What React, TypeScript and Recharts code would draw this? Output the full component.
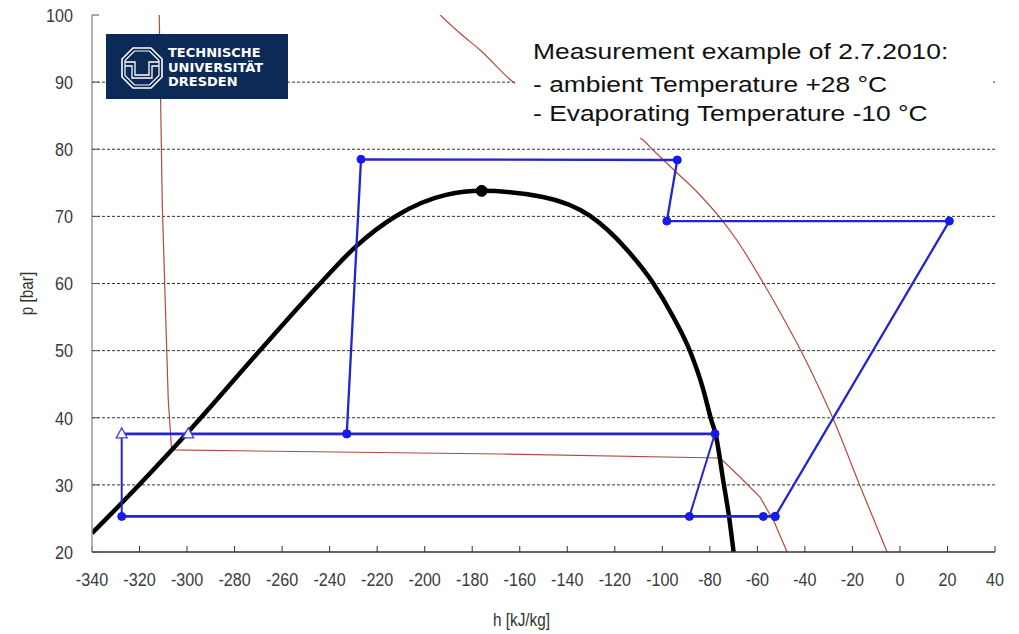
import React from 'react';
import { ComposedChart, Line, XAxis, YAxis, ReferenceLine, Label } from 'recharts';

// ---- axis ticks ----
const xTicks = [-340, -320, -300, -280, -260, -240, -220, -200, -180, -160, -140, -120, -100, -80, -60, -40, -20, 0, 20, 40];
const yTicks = [20, 30, 40, 50, 60, 70, 80, 90, 100];
const gridValues = [30, 40, 50, 60, 70, 80, 90];

// ---- saturation dome (black) ----
const domeH = [-340, -327.5, -300, -270, -244, -229, -212, -191, -176, -150.2, -130.4, -114.8, -103.9, -95.4, -88.2, -82.7, -79.4, -77.6, -74.2, -71.9, -70];
const domeP = [22.8, 27.3, 37.7, 49.75, 60, 65.5, 70.06, 73.2, 73.8, 72.89, 70.06, 64.99, 60.07, 55.01, 49.79, 44.13, 39.66, 37.58, 30.28, 25.21, 20];
const critH = [-176];
const critP = [73.8];

// ---- isotherms (red) ----
const isoLeftH = [-311.7, -310.4, -307.9, -306.5, -168.3, -75.7, -67.3, -58.9, -52.9, -47.5];
const isoLeftP = [100, 71.4, 42.6, 35.2, 34.6, 34.0, 31.17, 28.19, 24.47, 20];
const isoRightH = [-193.5, -185.1, -176.7, -162.8, -143.0, -122.0, -108.1, -103.9, -95.1, -86.2, -76.0, -68.7, -57.5, -49.1, -41.4, -34.4, -27.9, -16.8, -5.4];
const isoRightP = [100, 97.27, 94.79, 90.02, 86.6, 83.6, 81.38, 79.89, 76.91, 73.93, 69.91, 66.48, 60.07, 54.86, 49.79, 44.73, 39.66, 29.83, 20];

// ---- measured cycle (blue) ----
const highLoopH = [-52.5, 20.8, -98.1, -93.7, -226.8, -232.8];
const highLoopP = [25.3, 69.3, 69.3, 78.4, 78.5, 37.6];
const midLineH = [-327.5, -299.5, -232.8, -77.8];
const midLineP = [37.6, 37.6, 37.6, 37.6];
const midMarkers = ['triangle', 'triangle', 'circle', 'circle'];
const lowLineH = [-327.5, -88.6, -57.5, -52.5];
const lowLineP = [25.3, 25.3, 25.3, 25.3];
const riserH = [-327.5, -327.5];
const riserP = [25.3, 37.6];
const evapH = [-88.6, -77.8];
const evapP = [25.3, 37.7];

const zip = (hs: number[], ps: number[], mk?: string[]) =>
  hs.map((h, i) => ({ h, p: ps[i], mk: mk ? mk[i] : 'circle' }));

const dome = zip(domeH, domeP);
const crit = zip(critH, critP);
const isoLeft = zip(isoLeftH, isoLeftP);
const isoRight = zip(isoRightH, isoRightP);
const highLoop = zip(highLoopH, highLoopP);
const midLine = zip(midLineH, midLineP, midMarkers);
const lowLine = zip(lowLineH, lowLineP);
const riser = zip(riserH, riserP, ['none', 'none']);
const evap = zip(evapH, evapP, ['none', 'none']);

const BLUE_LINE = '#2424d0';
const BLUE_DOT = '#1818f0';
const RED = '#b24a40';
const TICK_FONT = '"Liberation Sans", Arial, sans-serif';

const CycleDot = (props: any) => {
  const { cx, cy, payload, index } = props;
  if (cx == null || cy == null) return <g key={index} />;
  if (payload.mk === 'triangle') {
    return (
      <path
        key={index}
        d={`M${cx},${cy - 6} L${cx + 5.5},${cy + 4} L${cx - 5.5},${cy + 4} Z`}
        fill="#f4f4ff"
        stroke="#4646c8"
        strokeWidth={1.3}
      />
    );
  }
  if (payload.mk === 'none') return <g key={index} />;
  return <circle key={index} cx={cx} cy={cy} r={4} fill={BLUE_DOT} stroke={BLUE_DOT} />;
};

const XTick = (props: any) => {
  const { x, y, payload } = props;
  return (
    <g transform={`translate(${x},${y}) scale(0.85,1)`}>
      <text x={0} y={0} dy="0.72em" textAnchor="middle" fontFamily={TICK_FONT} fontSize={19} fill="#3a3a3a">
        {payload.value}
      </text>
    </g>
  );
};

const YTick = (props: any) => {
  const { x, y, payload } = props;
  return (
    <g transform={`translate(${x},${y}) scale(0.85,1)`}>
      <text x={0} y={0} dy="0.36em" textAnchor="end" fontFamily={TICK_FONT} fontSize={19} fill="#3a3a3a">
        {payload.value}
      </text>
    </g>
  );
};

const XTitle = (props: any) => {
  const vb = props.viewBox;
  const x = vb.x + vb.width / 2 - 22;
  const y = vb.y + 68;
  return (
    <g transform={`translate(${x},${y}) scale(0.85,1)`}>
      <text x={0} y={0} textAnchor="middle" dominantBaseline="central" fontFamily={TICK_FONT} fontSize={18} fill="#333">h [kJ/kg]</text>
    </g>
  );
};

const YTitle = (props: any) => {
  const vb = props.viewBox;
  const x = vb.x + 27;
  const y = vb.y + vb.height / 2 + 10;
  return (
    <g transform={`translate(${x},${y}) rotate(-90) scale(0.85,1)`}>
      <text x={0} y={0} textAnchor="middle" dominantBaseline="central" fontFamily={TICK_FONT} fontSize={18} fill="#333">p [bar]</text>
    </g>
  );
};

const TuLogo = () => (
  <div style={{ position: 'absolute', left: 106, top: 34, width: 182, height: 65, background: '#0c2a56' }}>
    <svg width={44} height={44} style={{ position: 'absolute', left: 14, top: 12 }} viewBox="0 0 44 44">
      <polygon points="13,2 31,2 42,13 42,31 31,42 13,42 2,31 2,13" fill="none" stroke="#fff" strokeWidth={1.6} />
      <polygon points="14.5,5 29.5,5 39,14.5 39,29.5 29.5,39 14.5,39 5,29.5 5,14.5" fill="none" stroke="#fff" strokeWidth={1.2} />
      <polyline points="5,16 15,16 15,29 29,29 29,16 39,16" fill="none" stroke="#fff" strokeWidth={1.3} />
      <polyline points="5,20 12,20 12,32 32,32 32,20 39,20" fill="none" stroke="#fff" strokeWidth={1.3} />
    </svg>
    <div style={{ position: 'absolute', left: 62, top: 12, color: '#fff', fontFamily: '"DejaVu Sans", sans-serif',
      fontWeight: 700, fontSize: 13, lineHeight: '14.5px', whiteSpace: 'pre' }}>
      {'TECHNISCHE\nUNIVERSITÄT\nDRESDEN'}
    </div>
  </div>
);

const noteLines = ['Measurement example of 2.7.2010:', '- ambient Temperature +28 °C', '- Evaporating Temperature -10 °C'];
const noteTops = [41, 74, 103];

const NoteBox = () => (
  <div style={{ position: 'absolute', left: 515, top: 20, width: 478, height: 118, background: '#fff' }}>
    {noteLines.map((t, i) => (
      <div key={i} style={{ position: 'absolute', left: 18, top: noteTops[i] - 20, fontFamily: '"Liberation Sans", Arial, sans-serif',
        fontSize: 22, lineHeight: '22px', color: '#111', whiteSpace: 'pre', transform: 'scaleX(1.2)', transformOrigin: 'left center' }}>
        {t}
      </div>
    ))}
  </div>
);

export default function App() {
  return (
    <div style={{ position: 'absolute', left: 0, top: 0, width: 1019, height: 634, background: '#fff' }}>
      <ComposedChart width={1019} height={634} margin={{ top: 15, right: 24, bottom: 0, left: 0 }}>
        <XAxis
          dataKey="h"
          type="number"
          domain={[-340, 40]}
          ticks={xTicks}
          interval={0}
          height={82}
          allowDataOverflow
          tickSize={-6}
          tickMargin={26}
          tick={<XTick />}
          tickLine={{ stroke: '#333' }}
          axisLine={{ stroke: '#333', strokeWidth: 1.5 }}
        >
          <Label content={<XTitle />} />
        </XAxis>
        <XAxis xAxisId="top" orientation="top" type="number" domain={[-340, 40]} height={0}
          tick={false} tickLine={false} axisLine={{ stroke: '#999', strokeWidth: 1.5 }} />
        <YAxis
          type="number"
          domain={[20, 100]}
          ticks={yTicks}
          interval={0}
          width={92}
          allowDataOverflow
          tickSize={-7}
          tickMargin={26}
          tick={<YTick />}
          tickLine={{ stroke: '#555' }}
          axisLine={{ stroke: '#999', strokeWidth: 1.5 }}
        >
          <Label content={<YTitle />} />
        </YAxis>
        <YAxis yAxisId="right" orientation="right" type="number" domain={[20, 100]} width={0}
          tick={false} tickLine={false} axisLine={{ stroke: '#555', strokeWidth: 1.5 }} />

        {gridValues.map((v) => (
          <ReferenceLine key={v} y={v} stroke="#333" strokeDasharray="3 2" strokeWidth={1} />
        ))}

        <Line data={isoLeft} dataKey="p" type="linear" stroke={RED} strokeWidth={1.2} dot={false} isAnimationActive={false} />
        <Line data={isoRight} dataKey="p" type="monotone" stroke={RED} strokeWidth={1.2} dot={false} isAnimationActive={false} />
        <Line data={dome} dataKey="p" type="monotone" stroke="#000" strokeWidth={4.5} dot={false} isAnimationActive={false} />
        <Line data={crit} dataKey="p" stroke="#000" dot={{ r: 5.5, fill: '#000', stroke: '#000' }} isAnimationActive={false} />

        <Line data={highLoop} dataKey="p" type="linear" stroke={BLUE_LINE} strokeWidth={2.3} dot={<CycleDot />} isAnimationActive={false} />
        <Line data={riser} dataKey="p" type="linear" stroke={BLUE_LINE} strokeWidth={2} dot={<CycleDot />} isAnimationActive={false} />
        <Line data={evap} dataKey="p" type="linear" stroke={BLUE_LINE} strokeWidth={2} dot={<CycleDot />} isAnimationActive={false} />
        <Line data={lowLine} dataKey="p" type="linear" stroke={BLUE_LINE} strokeWidth={2.6} dot={<CycleDot />} isAnimationActive={false} />
        <Line data={midLine} dataKey="p" type="linear" stroke={BLUE_LINE} strokeWidth={2.6} dot={<CycleDot />} isAnimationActive={false} />
      </ComposedChart>
      <TuLogo />
      <NoteBox />
    </div>
  );
}
